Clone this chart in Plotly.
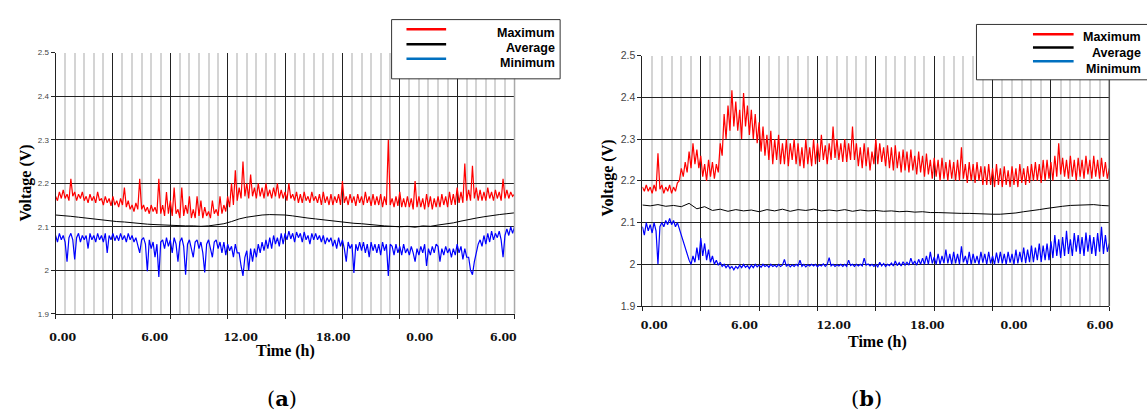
import plotly.graph_objects as go

W, H = 1147, 416

# ---------------- data -----------------
STEP_NOISY = 0.125  # hours between samples (max / min series)
STEP_AVG = 0.5      # hours between samples (average series)

a_max = [
    2.17, 2.16, 2.18, 2.165, 2.185, 2.165, 2.175, 2.16,
    2.21, 2.17, 2.18, 2.16, 2.175, 2.165, 2.18, 2.16,
    2.17, 2.155, 2.175, 2.16, 2.17, 2.155, 2.18, 2.16,
    2.165, 2.15, 2.17, 2.155, 2.165, 2.148, 2.17, 2.15,
    2.16, 2.145, 2.165, 2.15, 2.19, 2.145, 2.16, 2.14,
    2.15, 2.135, 2.155, 2.14, 2.21, 2.14, 2.15, 2.135,
    2.145, 2.13, 2.15, 2.135, 2.145, 2.13, 2.21, 2.13,
    2.15, 2.125, 2.18, 2.13, 2.16, 2.125, 2.19, 2.13,
    2.14, 2.12, 2.19, 2.125, 2.15, 2.13, 2.17, 2.12,
    2.14, 2.12, 2.17, 2.125, 2.16, 2.12, 2.145, 2.125,
    2.135, 2.12, 2.16, 2.13, 2.14, 2.125, 2.17, 2.13,
    2.15, 2.135, 2.17, 2.145, 2.20, 2.15, 2.23, 2.16,
    2.19, 2.165, 2.25, 2.17, 2.20, 2.165, 2.22, 2.17,
    2.19, 2.165, 2.20, 2.17, 2.19, 2.165, 2.20, 2.17,
    2.185, 2.165, 2.19, 2.17, 2.20, 2.165, 2.185, 2.165,
    2.18, 2.16, 2.20, 2.165, 2.175, 2.16, 2.18, 2.155,
    2.175, 2.155, 2.18, 2.16, 2.17, 2.155, 2.18, 2.16,
    2.17, 2.155, 2.175, 2.15, 2.18, 2.155, 2.17, 2.15,
    2.175, 2.15, 2.17, 2.155, 2.175, 2.15, 2.205, 2.155,
    2.17, 2.15, 2.175, 2.155, 2.17, 2.148, 2.175, 2.155,
    2.17, 2.15, 2.18, 2.155, 2.17, 2.148, 2.175, 2.15,
    2.17, 2.15, 2.175, 2.145, 2.17, 2.15, 2.30, 2.15,
    2.165, 2.145, 2.17, 2.148, 2.18, 2.145, 2.165, 2.145,
    2.17, 2.145, 2.165, 2.14, 2.205, 2.145, 2.17, 2.145,
    2.165, 2.14, 2.175, 2.145, 2.17, 2.14, 2.165, 2.145,
    2.17, 2.145, 2.175, 2.15, 2.17, 2.145, 2.18, 2.15,
    2.175, 2.15, 2.19, 2.155, 2.18, 2.155, 2.245, 2.16,
    2.185, 2.16, 2.24, 2.165, 2.19, 2.16, 2.185, 2.16,
    2.18, 2.16, 2.19, 2.165, 2.18, 2.16, 2.185, 2.165,
    2.18, 2.16, 2.21, 2.165, 2.185, 2.165, 2.18, 2.17,
    2.175,
]

a_avg = [
    2.127, 2.126, 2.124, 2.122, 2.120, 2.118, 2.116, 2.113, 2.112, 2.111,
    2.109, 2.108, 2.106, 2.105, 2.104, 2.104, 2.103, 2.102, 2.102, 2.101,
    2.102, 2.104, 2.107, 2.112, 2.118, 2.122, 2.125, 2.127, 2.128, 2.128,
    2.127, 2.125, 2.122, 2.120, 2.118, 2.116, 2.113, 2.112, 2.110, 2.108,
    2.107, 2.105, 2.104, 2.102, 2.101, 2.100, 2.101, 2.099, 2.102, 2.101,
    2.104, 2.106, 2.109, 2.113, 2.117, 2.120, 2.123, 2.126, 2.128, 2.130,
    2.132,
]

a_min = [
    2.08, 2.065, 2.085, 2.07, 2.08, 2.065, 2.02, 2.075,
    2.085, 2.07, 2.025, 2.075, 2.085, 2.065, 2.08, 2.07,
    2.08, 2.05, 2.085, 2.07, 2.08, 2.065, 2.085, 2.07,
    2.08, 2.065, 2.085, 2.04, 2.08, 2.07, 2.085, 2.068,
    2.08, 2.068, 2.085, 2.07, 2.08, 2.065, 2.085, 2.07,
    2.08, 2.065, 2.075, 2.06, 2.04, 2.07, 2.075, 2.06,
    1.998, 2.07, 2.05, 2.065, 2.03, 2.06, 1.985, 2.065,
    2.07, 2.05, 2.075, 2.055, 2.07, 2.04, 2.075, 2.06,
    2.02, 2.065, 2.075, 2.055, 1.99, 2.06, 2.07, 2.05,
    2.03, 2.065, 2.07, 2.05, 2.065, 2.04, 1.995, 2.06,
    2.07, 2.05, 2.03, 2.065, 2.07, 2.05, 2.065, 2.04,
    2.065, 2.035, 2.06, 2.045, 2.055, 2.03, 2.06, 2.04,
    2.04, 2.01, 1.987, 2.03, 2.045, 2.00, 2.05, 2.02,
    2.05, 2.03, 2.06, 2.04, 2.065, 2.045, 2.07, 2.05,
    2.075, 2.05, 2.08, 2.06, 2.075, 2.055, 2.085, 2.06,
    2.085, 2.07, 2.09, 2.072, 2.085, 2.065, 2.088, 2.075,
    2.085, 2.065, 2.088, 2.07, 2.08, 2.06, 2.085, 2.07,
    2.085, 2.07, 2.08, 2.065, 2.08, 2.06, 2.075, 2.065,
    2.075, 2.055, 2.07, 2.05, 2.075, 2.055, 2.07, 2.05,
    2.02, 2.065, 2.05, 2.06, 1.994, 2.06, 2.045, 2.065,
    2.045, 2.065, 2.04, 2.06, 2.03, 2.065, 2.045, 2.06,
    2.04, 2.06, 2.035, 2.065, 2.045, 2.06, 1.987, 2.06,
    2.055, 2.035, 2.06, 2.04, 2.055, 2.035, 2.06, 2.04,
    2.05, 2.035, 2.055, 2.04, 2.02, 2.05, 2.035, 2.055,
    2.04, 2.06, 2.01, 2.05, 2.035, 2.055, 2.04, 2.06,
    2.055, 2.02, 2.05, 2.035, 2.055, 2.04, 2.05, 2.03,
    2.05, 2.035, 2.06, 2.04, 2.055, 2.025, 2.05, 2.03,
    2.03, 2.00, 1.99, 2.02, 2.04, 2.06, 2.07, 2.055,
    2.08, 2.06, 2.085, 2.065, 2.09, 2.07, 2.085, 2.075,
    2.09, 2.07, 2.03, 2.08, 2.095, 2.08, 2.10, 2.085,
    2.10,
]

b_max = [
    2.185, 2.175, 2.19, 2.175, 2.185, 2.17, 2.19, 2.175,
    2.266, 2.18, 2.19, 2.17, 2.185, 2.175, 2.19, 2.17,
    2.185, 2.175, 2.195, 2.20, 2.23, 2.21, 2.245, 2.22,
    2.27, 2.23, 2.29, 2.24, 2.275, 2.23, 2.26, 2.21,
    2.24, 2.20, 2.25, 2.21, 2.245, 2.205, 2.24, 2.22,
    2.29, 2.26, 2.36, 2.30, 2.38, 2.32, 2.417, 2.33,
    2.39, 2.32, 2.37, 2.30, 2.41, 2.33, 2.38, 2.31,
    2.37, 2.30, 2.36, 2.29, 2.34, 2.27, 2.33, 2.26,
    2.31, 2.25, 2.32, 2.24, 2.30, 2.25, 2.31, 2.24,
    2.29, 2.24, 2.30, 2.235, 2.29, 2.25, 2.30, 2.24,
    2.29, 2.235, 2.28, 2.23, 2.30, 2.24, 2.28, 2.235,
    2.30, 2.24, 2.29, 2.245, 2.31, 2.25, 2.285, 2.24,
    2.29, 2.25, 2.33, 2.255, 2.30, 2.25, 2.29, 2.245,
    2.30, 2.245, 2.29, 2.25, 2.33, 2.25, 2.29, 2.235,
    2.28, 2.23, 2.29, 2.235, 2.28, 2.225, 2.27, 2.24,
    2.30, 2.24, 2.29, 2.245, 2.28, 2.235, 2.285, 2.23,
    2.28, 2.225, 2.285, 2.23, 2.27, 2.22, 2.275, 2.225,
    2.27, 2.22, 2.275, 2.225, 2.26, 2.215, 2.27, 2.22,
    2.26, 2.21, 2.265, 2.215, 2.25, 2.205, 2.255, 2.21,
    2.25, 2.20, 2.255, 2.205, 2.245, 2.20, 2.25, 2.205,
    2.245, 2.20, 2.25, 2.20, 2.28, 2.205, 2.24, 2.195,
    2.245, 2.20, 2.24, 2.195, 2.245, 2.20, 2.235, 2.19,
    2.235, 2.19, 2.24, 2.19, 2.23, 2.185, 2.24, 2.19,
    2.23, 2.185, 2.235, 2.19, 2.225, 2.185, 2.235, 2.19,
    2.23, 2.185, 2.24, 2.195, 2.23, 2.19, 2.235, 2.195,
    2.24, 2.20, 2.245, 2.20, 2.24, 2.195, 2.25, 2.20,
    2.25, 2.205, 2.245, 2.20, 2.26, 2.21, 2.29, 2.215,
    2.255, 2.21, 2.25, 2.205, 2.26, 2.21, 2.25, 2.20,
    2.255, 2.21, 2.25, 2.205, 2.26, 2.215, 2.25, 2.205,
    2.26, 2.21, 2.25, 2.205, 2.255, 2.21, 2.245, 2.205,
    2.23,
]

b_avg = [
    2.142, 2.140, 2.143, 2.139, 2.141, 2.138, 2.146, 2.133, 2.138, 2.129,
    2.132, 2.127, 2.131, 2.128, 2.130, 2.126, 2.131, 2.128, 2.132, 2.127,
    2.131, 2.129, 2.132, 2.128, 2.130, 2.128, 2.131, 2.127, 2.130, 2.128,
    2.129, 2.127, 2.128, 2.126, 2.127, 2.125, 2.126, 2.124, 2.124, 2.123,
    2.123, 2.122, 2.122, 2.121, 2.121, 2.120, 2.120, 2.121, 2.123, 2.126,
    2.128, 2.131, 2.134, 2.137, 2.139, 2.141, 2.142, 2.143, 2.143, 2.141,
    2.140,
]

b_min = [
    2.09, 2.07, 2.10, 2.08, 2.095, 2.075, 2.10, 2.08,
    2.00, 2.09, 2.10, 2.09, 2.105, 2.095, 2.11, 2.095,
    2.105, 2.09, 2.10, 2.085, 2.07, 2.05, 2.04, 2.02,
    2.01, 2.00, 2.02, 2.005, 2.04, 2.01, 2.063, 2.02,
    2.05, 2.01, 2.035, 2.005, 2.02, 2.00, 2.01, 1.998,
    2.005, 1.995, 2.00, 1.992, 1.998, 1.99, 1.995, 1.987,
    1.995, 1.99, 1.998, 1.992, 2.00, 1.993, 1.997, 1.99,
    1.998, 1.992, 2.00, 1.994, 1.998, 1.993, 2.00, 1.995,
    1.998, 1.993, 2.00, 1.995, 1.998, 1.994, 2.00, 1.995,
    1.998, 2.012, 1.995, 2.00, 1.994, 1.999, 1.995, 2.00,
    1.996, 2.01, 1.995, 2.00, 1.994, 1.999, 1.996, 2.00,
    1.996, 2.00, 1.994, 1.999, 1.996, 2.001, 1.995, 2.00,
    2.016, 1.996, 2.00, 1.995, 1.999, 1.996, 2.00, 1.995,
    2.00, 1.995, 2.01, 1.997, 2.00, 1.995, 2.00, 1.996,
    2.00, 1.996, 2.015, 1.998, 2.001, 1.996, 2.00, 1.995,
    2.00, 1.994, 2.005, 1.996, 2.002, 1.995, 2.00, 1.997,
    2.003, 1.996, 2.008, 1.997, 2.004, 1.996, 2.006, 1.998,
    2.005, 1.998, 2.015, 2.00, 2.008, 1.998, 2.012, 2.00,
    2.015, 2.00, 2.02, 2.00, 2.03, 2.002, 2.018, 2.00,
    2.025, 2.00, 2.02, 2.003, 2.035, 2.002, 2.025, 2.00,
    2.03, 2.002, 2.025, 2.00, 2.043, 2.005, 2.02, 2.00,
    2.03, 2.00, 2.025, 2.003, 2.02, 2.00, 2.03, 2.004,
    2.025, 2.00, 2.03, 2.002, 2.02, 2.00, 2.028, 2.003,
    2.03, 2.002, 2.025, 2.00, 2.03, 2.004, 2.025, 2.00,
    2.035, 2.002, 2.03, 2.005, 2.04, 2.003, 2.035, 2.005,
    2.045, 2.005, 2.04, 2.01, 2.05, 2.006, 2.045, 2.01,
    2.05, 2.01, 2.055, 2.015, 2.07, 2.02, 2.06, 2.015,
    2.065, 2.02, 2.08, 2.025, 2.06, 2.02, 2.075, 2.03,
    2.07, 2.025, 2.065, 2.02, 2.076, 2.03, 2.07, 2.025,
    2.065, 2.02, 2.075, 2.03, 2.09, 2.025, 2.07, 2.03,
    2.05,
]

tick_text = ["0.00", "6.00", "12.00", "18.00", "0.00", "6.00"]
tick_pos_a = [0.47, 6.48, 12.1, 18.14, 23.8, 29.27]
tick_pos_b = [0.76, 6.56, 12.29, 18.3, 23.87, 29.4]

series_names = ["Maximum", "Average", "Minimum"]
series_colors = ["#ff0000", "#000000", "#0000ff"]
series_widths = [1.2, 1, 1.2]
legend_colors = ["#ff0000", "#000000", "#0070c0"]


def hours(n, step):
    return [i * step for i in range(n)]


def px(x):
    return x / W


def py(y):
    return 1 - y / H


fig = go.Figure()

panels = [
    dict(xa="x", ya="y", data=[a_max, a_avg, a_min]),
    dict(xa="x2", ya="y2", data=[b_max, b_avg, b_min]),
]
steps = [STEP_NOISY, STEP_AVG, STEP_NOISY]
for p in panels:
    for vals, st, col, lw, nm in zip(p["data"], steps, series_colors, series_widths, series_names):
        fig.add_trace(go.Scatter(
            x=hours(len(vals), st), y=vals, mode="lines", name=nm,
            line=dict(color=col, width=lw), xaxis=p["xa"], yaxis=p["ya"],
            showlegend=False, hoverinfo="skip"))

# dummy traces for label overlay axes
fig.add_trace(go.Scatter(x=[None], y=[None], xaxis="x3", yaxis="y", showlegend=False))
fig.add_trace(go.Scatter(x=[None], y=[None], xaxis="x4", yaxis="y2", showlegend=False))

dark = "#222222"
minor_col = "#d4d4d4"


def grid_x(domain, anchor):
    return dict(domain=domain, anchor=anchor, range=[0, 30], tick0=0, dtick=3.75,
                showgrid=True, gridcolor=dark, gridwidth=1,
                showline=True, linecolor=dark, linewidth=1,
                ticks="outside", ticklen=4, tickcolor=dark, showticklabels=False,
                zeroline=False,
                minor=dict(dtick=0.625, tick0=0, showgrid=True, gridcolor=minor_col,
                           gridwidth=2, ticks=""))


def label_x(over, anchor, pos, standoff):
    return dict(overlaying=over, anchor=anchor, range=[0, 30], tickmode="array",
                tickvals=pos, ticktext=["<b>%s</b>" % t for t in tick_text],
                showgrid=False, zeroline=False, showline=False, ticks="",
                tickfont=dict(family="DejaVu Serif", size=11, color="#111111"),
                ticklabelstandoff=standoff)


def grid_y(domain, anchor, fsize):
    return dict(domain=domain, anchor=anchor, range=[1.9, 2.5], tick0=1.9, dtick=0.1,
                showgrid=True, gridcolor=dark, gridwidth=1,
                showline=True, linecolor=dark, linewidth=1, zeroline=False,
                ticks="outside", ticklen=4, tickcolor=dark,
                tickfont=dict(family="Liberation Sans", size=fsize, color="#444444"))


fig.update_layout(
    width=W, height=H, margin=dict(l=0, r=0, t=0, b=0),
    paper_bgcolor="white", plot_bgcolor="white", showlegend=False,
    xaxis=grid_x([px(50), px(513)], "y"),
    yaxis=grid_y([py(317), py(48)], "x", 8),
    xaxis2=grid_x([px(642), px(1113)], "y2"),
    yaxis2=grid_y([py(309), py(51)], "x2", 10.5),
    xaxis3=label_x("x", "y", tick_pos_a, 15),
    xaxis4=label_x("x2", "y2", tick_pos_b, 11),
)

# right-edge borders
fig.add_shape(type="line", xref="paper", yref="paper", x0=px(513), x1=px(513),
              y0=py(317), y1=py(48), line=dict(color="#aaaaaa", width=1.5))
fig.add_shape(type="line", xref="paper", yref="paper", x0=px(1113), x1=px(1113),
              y0=py(309), y1=py(51), line=dict(color="#555555", width=1.5))

annos = []
title_font = dict(family="Liberation Serif", size=16, color="#000000")
for (xc, yc) in [(20, 182), (607, 177)]:
    annos.append(dict(text="<b>Voltage (V)</b>", x=px(xc), y=py(yc), xref="paper", yref="paper",
                      showarrow=False, textangle=-90, font=title_font,
                      xanchor="center", yanchor="middle"))
for (xc, yc) in [(282, 355), (879, 346)]:
    annos.append(dict(text="<b>Time (h)</b>", x=px(xc), y=py(yc), xref="paper", yref="paper",
                      showarrow=False, font=title_font, xanchor="center", yanchor="middle"))
for txt, (xc, yc) in zip(["(<b>a</b>)", "(<b>b</b>)"], [(278, 404), (868, 404)]):
    annos.append(dict(text=txt, x=px(xc), y=py(yc), xref="paper", yref="paper",
                      showarrow=False, font=dict(family="DejaVu Serif", size=21, color="#000"),
                      xanchor="center", yanchor="middle"))

# legends (drawn as boxes)
legends = [
    dict(box=(389, 559, 14, 75), line_x=(404, 444), line_y=[24, 39.3, 54.3],
         text_x=556, text_y=[28, 43, 59]),
    dict(box=(979, 1170, 19, 76), line_x=(1036, 1077), line_y=[29, 42.7, 57],
         text_x=1147, text_y=[32, 48.5, 65]),
]
for lg in legends:
    x0, x1, y0, y1 = lg["box"]
    fig.add_shape(type="rect", xref="paper", yref="paper", x0=px(x0), x1=px(x1),
                  y0=py(y1), y1=py(y0), line=dict(color="#333333", width=1),
                  fillcolor="white", layer="above")
    for nm, col, ly, ty in zip(series_names, legend_colors, lg["line_y"], lg["text_y"]):
        fig.add_shape(type="line", xref="paper", yref="paper", x0=px(lg["line_x"][0]),
                      x1=px(lg["line_x"][1]), y0=py(ly), y1=py(ly),
                      line=dict(color=col, width=2.5), layer="above")
        annos.append(dict(text="<b>%s</b>" % nm, x=px(lg["text_x"]), y=py(ty), xref="paper",
                          yref="paper", showarrow=False, xanchor="right", yanchor="middle",
                          font=dict(family="Liberation Sans", size=12.5, color="#000")))

fig.update_layout(annotations=annos)

fig.write_html("out.html", config={"displayModeBar": False},
               post_script="document.body.style.margin='0';document.body.style.overflow='hidden';")
